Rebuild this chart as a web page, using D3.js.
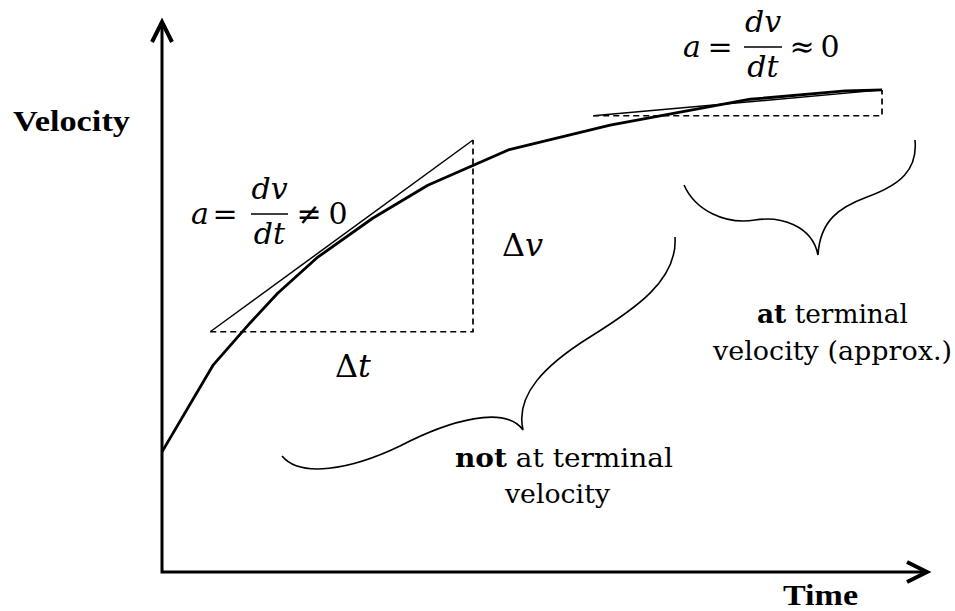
<!DOCTYPE html>
<html><head><meta charset="utf-8">
<script src="https://cdn.jsdelivr.net/npm/d3@7"></script>
<style>body{margin:0;background:#fff}svg{display:block}</style>
</head><body>
<script>
// ---- data (time, velocity in arbitrary units 0..100) ----
const curveTime = [0, 6.7, 11.5, 15.1, 20.2, 27.5, 34.7, 45.2, 58.5, 76.8, 89.2, 94.0];
const curveVel  = [21.8, 37.6, 45.2, 50.6, 57.0, 64.2, 70.2, 76.6, 81.1, 85.8, 87.3, 87.5];
const tangent1 = [[6.3, 43.6], [40.6, 78.4]];
const tangent2 = [[56.3, 82.8], [94.0, 87.5]];
// braces: start point, then cubic segments [control1, control2, end]
const brace1 = [[15.67,21.05],
  [[18.02,17.06],[24.54,18.51],[31.07,22.87]],
  [[37.60,27.59],[44.78,30.31],[47.13,25.77]],
  [[46.08,32.12],[50.0,37.57],[55.87,42.65]],
  [[61.75,47.73],[67.36,52.99],[66.97,60.80]]];
const brace2 = [[68.15,70.24],
  [[69.58,65.70],[73.50,62.98],[77.42,63.88]],
  [[80.68,64.61],[84.86,62.98],[85.64,57.53]],
  [[85.90,63.88],[88.51,66.24],[92.04,68.06]],
  [[96.34,70.24],[98.69,72.96],[98.30,78.40]]];
const axisLabels = ["Velocity", "Time"];
const noteNot = ["not", " at terminal", "velocity"];
const noteAt = ["at", " terminal", "velocity (approx.)"];

const W = 955, H = 611;
const svg = d3.select("body").append("svg").attr("width", W).attr("height", H);
const x = d3.scaleLinear().domain([0, 100]).range([162, 928]);
const y = d3.scaleLinear().domain([0, 100]).range([572, 21]);
const line = d3.line().x(d => x(d[0])).y(d => y(d[1]));

// axes
svg.append("path").attr("d", line([[0,100],[0,0],[100,0]]))
  .attr("fill","none").attr("stroke","#000").attr("stroke-width",3);
svg.append("path").attr("d", `M${x(0)-10},${y(100)+21} L${x(0)},${y(100)+1} L${x(0)+10},${y(100)+21}`)
  .attr("fill","none").attr("stroke","#000").attr("stroke-width",4);
svg.append("path").attr("d", `M${x(100)-21},${y(0)-10} L${x(100)-1},${y(0)} L${x(100)-21},${y(0)+10}`)
  .attr("fill","none").attr("stroke","#000").attr("stroke-width",4);

// velocity curve
const pts = curveTime.map((t,i)=>[t, curveVel[i]]);
svg.append("path").attr("d", line(pts)).attr("fill","none").attr("stroke","#000")
  .attr("stroke-width",2.8).attr("stroke-linejoin","round");

// tangent triangles
function tri(tg){
  const [p0,p1] = tg;
  svg.append("path").attr("d", line([p0,p1])).attr("fill","none").attr("stroke","#000").attr("stroke-width",1.5);
  svg.append("path").attr("d", line([p0,[p1[0],p0[1]],p1])).attr("fill","none").attr("stroke","#000")
    .attr("stroke-width",1.7).attr("stroke-dasharray","6,4");
}
tri(tangent1); tri(tangent2);

// braces
function brace(b){
  const p = d3.path();
  p.moveTo(x(b[0][0]), y(b[0][1]));
  b.slice(1).forEach(s => p.bezierCurveTo(x(s[0][0]),y(s[0][1]),x(s[1][0]),y(s[1][1]),x(s[2][0]),y(s[2][1])));
  svg.append("path").attr("d", p.toString()).attr("fill","none").attr("stroke","#000").attr("stroke-width",1.6);
}
brace(brace1); brace(brace2);

// axis labels
const bold = "'Liberation Serif', 'DejaVu Serif', serif";
svg.append("text").attr("x",13).attr("y",131).attr("font-family",bold).attr("font-weight","bold")
  .attr("font-size",30).attr("textLength",117).attr("lengthAdjust","spacingAndGlyphs").text(axisLabels[0]);
svg.append("text").attr("x",783).attr("y",605).attr("font-family",bold).attr("font-weight","bold")
  .attr("font-size",29).attr("textLength",75).attr("lengthAdjust","spacingAndGlyphs").text(axisLabels[1]);

const serif = "'DejaVu Serif', 'Liberation Serif', serif";
function t(xp, yp, str, opt={}){
  const el = svg.append("text").attr("x",xp).attr("y",yp).attr("font-family",serif)
    .attr("font-size",opt.size||26).attr("text-anchor",opt.anchor||"middle").text(str);
  if(opt.italic) el.attr("font-style","italic");
  if(opt.bold) el.attr("font-weight","bold");
  if(opt.len) el.attr("textLength",opt.len).attr("lengthAdjust","spacingAndGlyphs");
  return el;
}
function formula(ax, eqx, barX0, barX1, barY, baseY, relx, rel, zx){
  const fs = 30;
  t(ax, baseY, "a", {italic:true, size:fs});
  t(eqx, baseY, "=", {size:fs});
  svg.append("line").attr("x1",barX0).attr("x2",barX1).attr("y1",barY).attr("y2",barY).attr("stroke","#000").attr("stroke-width",1.7);
  const cx = (barX0+barX1)/2;
  t(cx, barY-15, "dv", {italic:true, size:fs});
  t(cx, barY+30, "dt", {italic:true, size:fs});
  t(relx, baseY, rel, {size:fs});
  t(zx, baseY, "0", {size:fs});
}
formula(200, 225, 251, 288, 214, 224, 309, "≠", 338);
formula(692, 720, 744, 782, 47, 57, 802, "≈", 830);

t(502, 256, "Δ", {size:32, anchor:"start"}).append("tspan").attr("font-style","italic").text("v");
t(335, 377, "Δ", {size:32, anchor:"start"}).append("tspan").attr("font-style","italic").text("t");

const n1 = t(564, 467, "", {size:26, len:218});
n1.append("tspan").attr("font-weight","bold").text(noteNot[0]);
n1.append("tspan").text(noteNot[1]);
t(557.5, 503, noteNot[2], {size:26, len:105});
const n2 = t(832.5, 323, "", {size:26, len:151});
n2.append("tspan").attr("font-weight","bold").text(noteAt[0]);
n2.append("tspan").text(noteAt[1]);
t(832.5, 360, noteAt[2], {size:26, len:239});
</script>
</body></html>
